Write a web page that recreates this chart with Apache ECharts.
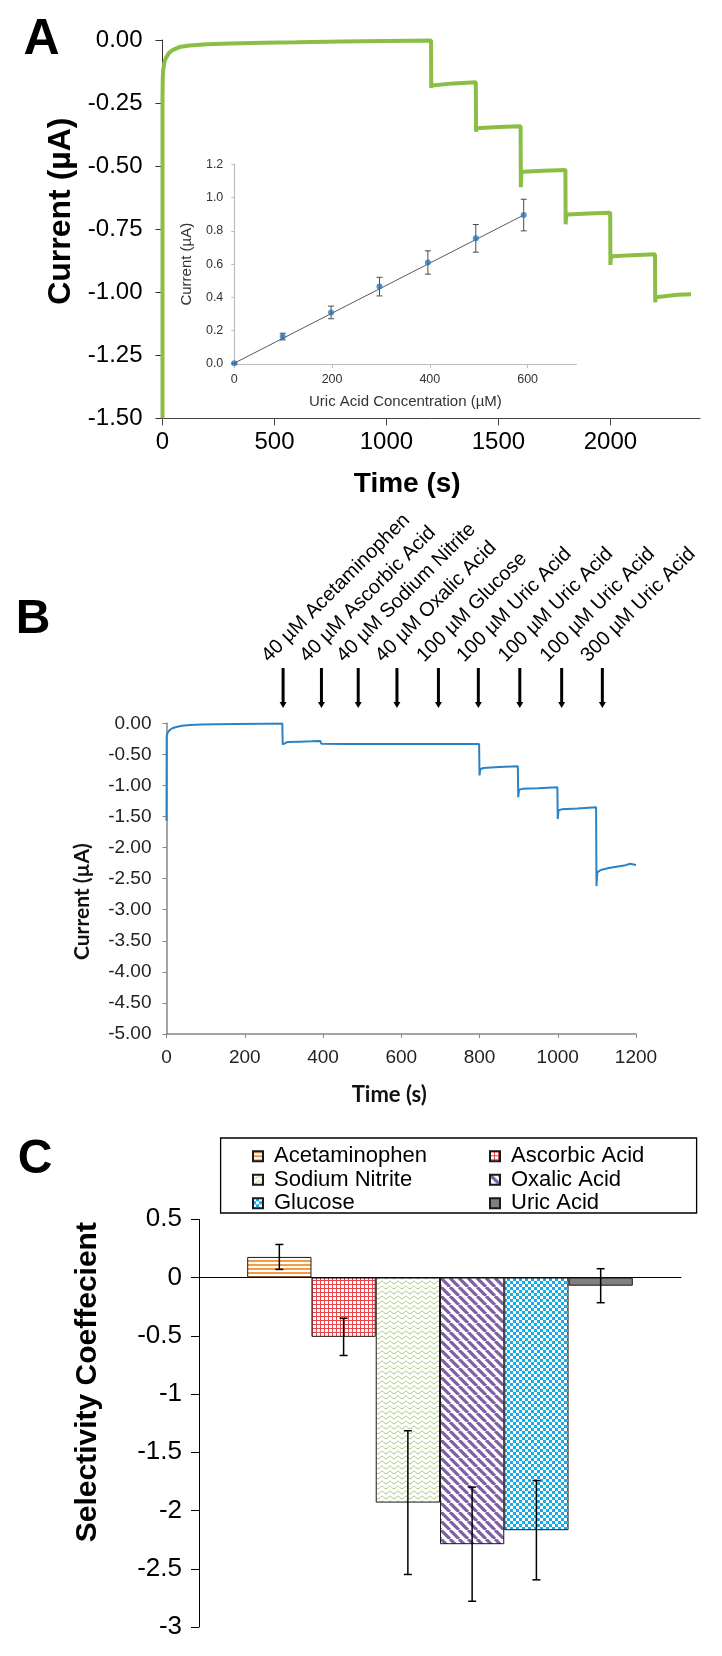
<!DOCTYPE html>
<html><head><meta charset="utf-8">
<script src="https://cdn.jsdelivr.net/npm/echarts@6/dist/echarts.min.js"></script>
<style>html,body{margin:0;padding:0;background:#fff}#c{width:722px;height:1656px}</style>
</head><body><div id="c"></div>
<script>
// ---------- Panel A : amperometric response (green) ----------
const timeA = [0, 0, 1, 3, 8, 15, 30, 45, 75, 120, 200, 300, 450, 600, 800, 1000, 1199,
  1200, 1202, 1210, 1300, 1399,
  1400, 1402, 1410, 1500, 1599,
  1600, 1602, 1610, 1700, 1799,
  1800, 1802, 1810, 1900, 1999,
  2000, 2002, 2010, 2100, 2199,
  2200, 2202, 2210, 2300, 2360];
const currentA = [-1.5, -0.24, -0.155, -0.12, -0.09, -0.072, -0.05, -0.04, -0.028, -0.022, -0.017, -0.014, -0.011, -0.009, -0.006, -0.004, -0.002,
  -0.19, -0.18, -0.175, -0.172, -0.168,
  -0.364, -0.35, -0.347, -0.345, -0.342,
  -0.584, -0.53, -0.522, -0.518, -0.515,
  -0.731, -0.70, -0.692, -0.688, -0.685,
  -0.892, -0.865, -0.857, -0.853, -0.85,
  -1.04, -1.02, -1.013, -1.01, -1.008];
const timeTicksA = [0, 500, 1000, 1500, 2000];

// ---------- Panel A inset : calibration ----------
const insetConc = [0, 99, 198, 297, 396, 494, 592];
const insetCurrent = [0.005, 0.165, 0.31, 0.465, 0.61, 0.755, 0.895];
const insetErr = [0, 0.02, 0.038, 0.056, 0.07, 0.083, 0.095];
const fitConc = [0, 592];
const fitCurrent = [0.005, 0.895];
const insetTicks = [0, 200, 400, 600];

// ---------- Panel B : interference test (blue) ----------
const timeB = [0, 0.5, 3, 8, 15, 25, 40, 60, 90, 130, 180, 240, 296,
  297, 299, 310, 340, 370, 393, 395,
  396, 400, 450, 500, 600, 700, 799,
  800, 802, 810, 850, 898,
  899, 901, 910, 950, 999,
  1000, 1002, 1010, 1050, 1098,
  1099, 1101, 1110, 1130, 1150, 1170, 1185, 1200];
const currentB = [-1.57, -0.2, -0.15, -0.11, -0.08, -0.06, -0.04, -0.028, -0.02, -0.014, -0.01, -0.006, -0.003,
  -0.34, -0.31, -0.30, -0.295, -0.29, -0.285, -0.27,
  -0.33, -0.335, -0.335, -0.335, -0.335, -0.335, -0.335,
  -0.84, -0.74, -0.72, -0.705, -0.69,
  -1.19, -1.07, -1.055, -1.045, -1.03,
  -1.54, -1.40, -1.385, -1.37, -1.35,
  -2.62, -2.40, -2.36, -2.33, -2.31, -2.29, -2.26, -2.28];
const arrowTimes = [298, 396, 490, 589, 695, 797, 903, 1010, 1114];
const arrowLabels = ['40 µM Acetaminophen', '40 µM Ascorbic Acid', '40 µM Sodium Nitrite', '40 µM Oxalic Acid',
  '100 µM Glucose', '100 µM Uric Acid', '100 µM Uric Acid', '100 µM Uric Acid', '300 µM Uric Acid'];

// ---------- Panel C : selectivity ----------
const speciesC = ['Acetaminophen', 'Ascorbic Acid', 'Sodium Nitrite', 'Oxalic Acid', 'Glucose', 'Uric Acid'];
const selectivity = [0.177, -0.509, -1.932, -2.289, -2.169, -0.07];
const selectivityErr = [0.107, 0.16, 0.617, 0.49, 0.426, 0.146];

const FONT = "'Liberation Sans', Arial, Helvetica, sans-serif";
const plain = v => String(v);

function pattern(w, h, draw) {
  const c = document.createElement('canvas');
  c.width = w; c.height = h;
  const g = c.getContext('2d');
  g.fillStyle = '#fff'; g.fillRect(0, 0, w, h);
  draw(g);
  return { image: c, repeat: 'repeat' };
}
const fills = [
  pattern(4, 4, g => { g.fillStyle = '#F59A45'; g.fillRect(0, 0, 4, 2); }),
  pattern(4, 4, g => { g.fillStyle = '#E4474C'; g.fillRect(0, 0, 4, 1); g.fillRect(0, 0, 1, 4); }),
  pattern(8, 5, g => { g.strokeStyle = '#9CC26A'; g.lineWidth = 1; g.beginPath();
    for (let x = 0; x <= 8; x += 0.5) { const y = 2.5 + 1.3 * Math.sin(2 * Math.PI * x / 8); x === 0 ? g.moveTo(x, y) : g.lineTo(x, y); }
    g.stroke(); }),
  pattern(9, 9, g => { g.strokeStyle = '#7F5FA6'; g.lineWidth = 3.2; g.beginPath();
    [-9, 0, 9].forEach(o => { g.moveTo(o, 0); g.lineTo(o + 9, 9); }); g.stroke(); }),
  pattern(6, 6, g => { g.fillStyle = '#12ACEB'; g.fillRect(0, 0, 6, 6); g.fillStyle = '#fff'; g.fillRect(0, 0, 3, 3); g.fillRect(3, 3, 3, 3); }),
  '#808080'
];

function zip(a, b) { return a.map((v, i) => [v, b[i]]); }

function errBar(color, cap, width) {
  return function (params, api) {
    const x = api.value(0), lo = api.value(1), hi = api.value(2);
    const p1 = api.coord([x, hi]), p2 = api.coord([x, lo]);
    const st = { stroke: color, lineWidth: width };
    return { type: 'group', children: [
      { type: 'line', shape: { x1: p1[0], y1: p1[1], x2: p2[0], y2: p2[1] }, style: st },
      { type: 'line', shape: { x1: p1[0] - cap, y1: p1[1], x2: p1[0] + cap, y2: p1[1] }, style: st },
      { type: 'line', shape: { x1: p2[0] - cap, y1: p2[1], x2: p2[0] + cap, y2: p2[1] }, style: st }
    ] };
  };
}

const chart = echarts.init(document.getElementById('c'), null, { renderer: 'canvas' });

const series = [];
series.push({ type: 'line', xAxisIndex: 0, yAxisIndex: 0, data: zip(timeA, currentA), showSymbol: false,
  lineStyle: { color: '#8BBE45', width: 4 }, itemStyle: { color: '#8BBE45' }, animation: false, z: 3 });
series.push({ type: 'line', xAxisIndex: 1, yAxisIndex: 1, data: zip(fitConc, fitCurrent), showSymbol: false,
  lineStyle: { color: '#5a5a5a', width: 1 }, animation: false, z: 4 });
series.push({ type: 'custom', xAxisIndex: 1, yAxisIndex: 1, renderItem: errBar('#4a4a4a', 3, 1),
  data: insetConc.map((c, i) => [c, insetCurrent[i] - insetErr[i], insetCurrent[i] + insetErr[i]]),
  encode: { x: 0, y: [1, 2] }, animation: false, z: 5 });
series.push({ type: 'scatter', xAxisIndex: 1, yAxisIndex: 1, data: zip(insetConc, insetCurrent), symbolSize: 6,
  itemStyle: { color: '#2E75B6' }, animation: false, z: 6 });
series.push({ type: 'line', xAxisIndex: 2, yAxisIndex: 2, data: zip(timeB, currentB), showSymbol: false,
  lineStyle: { color: '#2B83C5', width: 2 }, itemStyle: { color: '#2B83C5' }, animation: false });
series.push({ type: 'custom', xAxisIndex: 3, yAxisIndex: 3, clip: false, animation: false,
  data: arrowTimes.map(t => [t, 0]), encode: { x: 0, y: 1 },
  renderItem: function (params, api) {
    const base = api.coord([api.value(0), 0]);
    const x = base[0], yb = base[1], yt = yb - 40;
    return { type: 'group', children: [
      { type: 'line', shape: { x1: x, y1: yt, x2: x, y2: yb - 5 }, style: { stroke: '#000', lineWidth: 3 } },
      { type: 'polygon', shape: { points: [[x - 3.5, yb - 6], [x + 3.5, yb - 6], [x, yb]] }, style: { fill: '#000' } },
      { type: 'text', x: x - 11, y: yt - 2, rotation: Math.PI / 4,
        style: { text: arrowLabels[params.dataIndex], fontSize: 20, fontFamily: FONT, fill: '#000', align: 'left', verticalAlign: 'bottom' } }
    ] };
  } });
speciesC.forEach((name, i) => {
  series.push({ type: 'bar', name: name, xAxisIndex: 4, yAxisIndex: 4, data: [selectivity[i]],
    barGap: '0%', barCategoryGap: '20%', animation: false,
    itemStyle: { color: fills[i], borderColor: '#1a1a1a', borderWidth: 1 } });
});
series.push({ type: 'custom', xAxisIndex: 4, yAxisIndex: 4, animation: false, z: 10,
  data: speciesC.map((n, i) => [0, selectivity[i] - selectivityErr[i], selectivity[i] + selectivityErr[i], i]),
  encode: { x: 0, y: [1, 2] },
  renderItem: function (params, api) {
    const k = api.value(3), lo = api.value(1), hi = api.value(2);
    const bw = api.size([1, 0])[0] * 0.8 / speciesC.length;
    const c1 = api.coord([0, hi]), c2 = api.coord([0, lo]);
    const x = c1[0] + (k - (speciesC.length - 1) / 2) * bw, cap = 4;
    const st = { stroke: '#000', lineWidth: 1.5 };
    return { type: 'group', children: [
      { type: 'line', shape: { x1: x, y1: c1[1], x2: x, y2: c2[1] }, style: st },
      { type: 'line', shape: { x1: x - cap, y1: c1[1], x2: x + cap, y2: c1[1] }, style: st },
      { type: 'line', shape: { x1: x - cap, y1: c2[1], x2: x + cap, y2: c2[1] }, style: st }
    ] };
  } });

const noSplit = { show: false };
const option = {
  backgroundColor: '#fff',
  animation: false,
  textStyle: { fontFamily: FONT },
  grid: [
    { left: 162.5, right: 22, top: 40, bottom: 1237.7, outerBoundsMode: 'none' },
    { left: 234.3, right: 145.5, top: 164.3, bottom: 1292, outerBoundsMode: 'none' },
    { left: 166.5, right: 86, top: 723.3, bottom: 622, outerBoundsMode: 'none' },
    { left: 166.5, right: 86, top: 520, bottom: 948, outerBoundsMode: 'none' },
    { left: 199, right: 41, top: 1219.3, bottom: 29, outerBoundsMode: 'none' }
  ],
  xAxis: [
    { gridIndex: 0, type: 'value', min: 0, max: 2400, interval: 500, splitLine: noSplit,
      name: 'Time (s)', nameLocation: 'middle', nameGap: 52,
      nameTextStyle: { fontSize: 28, fontWeight: 'bold', color: '#000', fontFamily: FONT, padding: [0, 48, 0, 0] },
      axisLine: { onZero: false, lineStyle: { color: '#444', width: 1 } },
      axisTick: { length: 7, lineStyle: { color: '#444' }, customValues: timeTicksA },
      axisLabel: { fontSize: 24, color: '#000', margin: 12, fontFamily: FONT, customValues: timeTicksA, formatter: plain } },
    { gridIndex: 1, type: 'value', min: 0, max: 700, interval: 200, splitLine: noSplit,
      name: 'Uric Acid Concentration (µM)', nameLocation: 'middle', nameGap: 30,
      nameTextStyle: { fontSize: 15, color: '#333', fontFamily: FONT },
      axisLine: { onZero: false, lineStyle: { color: '#bdbdbd', width: 1.2 } },
      axisTick: { length: 4, lineStyle: { color: '#bdbdbd' }, customValues: insetTicks },
      axisLabel: { fontSize: 12.5, color: '#333', margin: 9, fontFamily: FONT, customValues: insetTicks, formatter: plain } },
    { gridIndex: 2, type: 'value', min: 0, max: 1200, interval: 200, splitLine: noSplit,
      name: 'Time (s)', nameLocation: 'middle', nameGap: 50,
      nameTextStyle: { fontSize: 22, fontWeight: 'bold', color: '#111', fontFamily: "Lato, 'Open Sans', sans-serif", padding: [0, 24, 0, 0] },
      axisLine: { onZero: false, lineStyle: { color: '#868686', width: 1.5 } },
      axisTick: { length: 4, lineStyle: { color: '#868686' } },
      axisLabel: { fontSize: 19, color: '#222', margin: 14, fontFamily: FONT, formatter: plain } },
    { gridIndex: 3, type: 'value', min: 0, max: 1200, show: false },
    { gridIndex: 4, type: 'category', data: [''], splitLine: noSplit,
      axisLine: { onZero: true, lineStyle: { color: '#000', width: 1 } },
      axisTick: { length: 4, lineStyle: { color: '#000' } },
      axisLabel: { show: false } }
  ],
  yAxis: [
    { gridIndex: 0, type: 'value', min: -1.5, max: 0, interval: 0.25, splitLine: noSplit,
      name: 'Current (µA)', nameLocation: 'middle', nameGap: 84,
      nameTextStyle: { fontSize: 32, fontWeight: 'bold', color: '#000', fontFamily: FONT, padding: [0, 0, 0, 36] },
      axisLine: { show: true, lineStyle: { color: '#333', width: 1 } },
      axisTick: { show: true, length: 7, lineStyle: { color: '#333' } },
      axisLabel: { fontSize: 24, color: '#000', margin: 20, fontFamily: FONT, formatter: v => v.toFixed(2) } },
    { gridIndex: 1, type: 'value', min: 0, max: 1.2, interval: 0.2, splitLine: noSplit,
      name: 'Current (µA)', nameLocation: 'middle', nameGap: 40,
      nameTextStyle: { fontSize: 15, color: '#333', fontFamily: FONT },
      axisLine: { show: true, lineStyle: { color: '#bdbdbd', width: 1.2 } },
      axisTick: { show: true, length: 3, lineStyle: { color: '#bdbdbd' } },
      axisLabel: { fontSize: 12.5, color: '#333', margin: 11, fontFamily: FONT, formatter: v => v.toFixed(1) } },
    { gridIndex: 2, type: 'value', min: -5, max: 0, interval: 0.5, splitLine: noSplit,
      name: 'Current (µA)', nameLocation: 'middle', nameGap: 74,
      nameTextStyle: { fontSize: 21, fontWeight: 'bold', color: '#111', fontFamily: "Lato, 'Open Sans', sans-serif", padding: [0, 46, 0, 0] },
      axisLine: { show: true, lineStyle: { color: '#868686', width: 1.5 } },
      axisTick: { show: true, length: 4, lineStyle: { color: '#868686' } },
      axisLabel: { fontSize: 19, color: '#222', margin: 15, fontFamily: FONT, formatter: v => v.toFixed(2) } },
    { gridIndex: 3, type: 'value', min: 0, max: 1, show: false },
    { gridIndex: 4, type: 'value', min: -3, max: 0.5, interval: 0.5, splitLine: noSplit,
      name: 'Selectivity Coeffecient', nameLocation: 'middle', nameGap: 96,
      nameTextStyle: { fontSize: 30, fontWeight: 'bold', color: '#000', fontFamily: FONT, padding: [0, 0, 0, 82] },
      axisLine: { show: true, lineStyle: { color: '#000', width: 1 } },
      axisTick: { show: true, length: 8, lineStyle: { color: '#000' } },
      axisLabel: { fontSize: 26, color: '#000', margin: 17, fontFamily: FONT, formatter: plain } }
  ],
  legend: [
    { data: ['Acetaminophen', 'Sodium Nitrite', 'Glucose'], orient: 'vertical', left: 247, top: 1140,
      icon: 'rect', itemWidth: 10, itemHeight: 10, itemGap: 1, selectedMode: false,
      textStyle: { fontSize: 22, lineHeight: 22.5, color: '#000', fontFamily: FONT, padding: [0, 0, 0, 6] } },
    { data: ['Ascorbic Acid', 'Oxalic Acid', 'Uric Acid'], orient: 'vertical', left: 484, top: 1140,
      icon: 'rect', itemWidth: 10, itemHeight: 10, itemGap: 1, selectedMode: false,
      textStyle: { fontSize: 22, lineHeight: 22.5, color: '#000', fontFamily: FONT, padding: [0, 0, 0, 6] } }
  ],
  graphic: [
    { type: 'rect', shape: { x: 220.6, y: 1138, width: 476, height: 75 }, style: { fill: 'none', stroke: '#000', lineWidth: 1.3 }, z: 1 },
    { type: 'text', x: 41.5, y: 40, style: { text: 'A', fontSize: 50, fontWeight: 'bold', fontFamily: FONT, fill: '#000', align: 'center', verticalAlign: 'middle' } },
    { type: 'text', x: 33, y: 620, style: { text: 'B', fontSize: 48, fontWeight: 'bold', fontFamily: FONT, fill: '#000', align: 'center', verticalAlign: 'middle' } },
    { type: 'text', x: 35, y: 1160, style: { text: 'C', fontSize: 48, fontWeight: 'bold', fontFamily: FONT, fill: '#000', align: 'center', verticalAlign: 'middle' } }
  ],
  series: series
};
chart.setOption(option);
</script>
</body></html>
